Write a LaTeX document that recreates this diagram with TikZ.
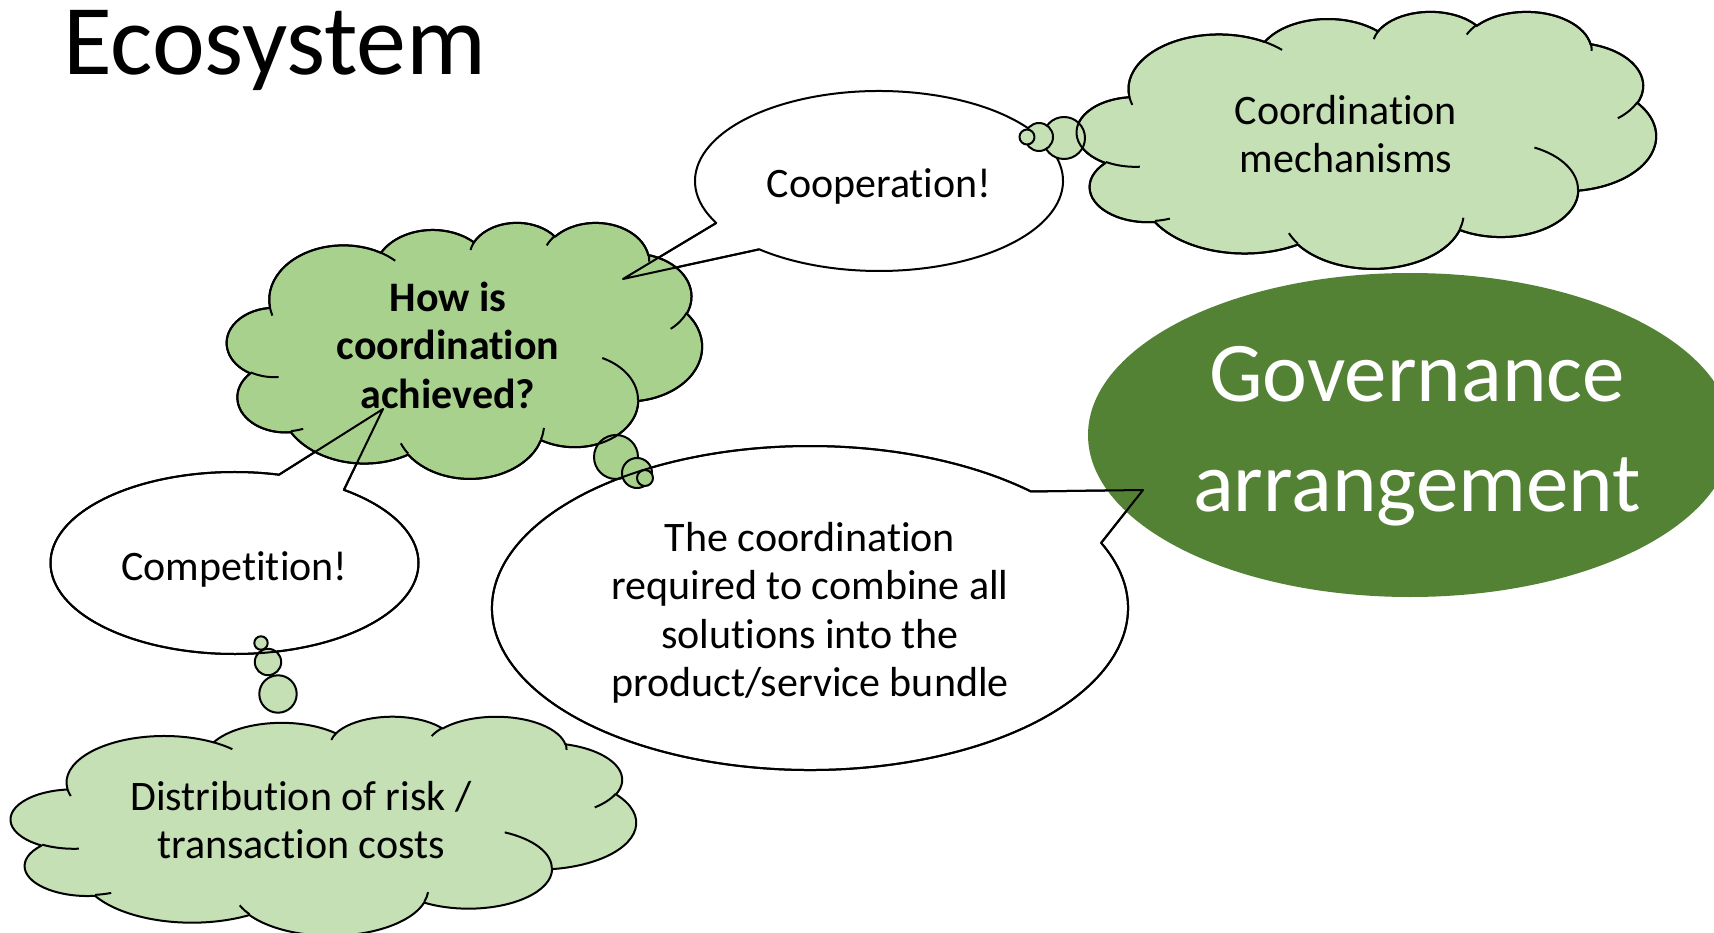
\documentclass[tikz,border=0pt]{standalone}
\usepackage{fontspec}
\setmainfont{Carlito}[Ligatures={NoCommon}]
\usetikzlibrary{calc}
\definecolor{cloudA}{HTML}{A9D18E}
\definecolor{cloudB}{HTML}{C5E0B4}
\definecolor{govgreen}{HTML}{548235}
% arc of the PowerPoint cloud preset: #1 wR, #2 hR, #3 visual start angle, #4 sweep
\newcommand\carc[4]{\pgfextra{%
  \pgfmathparse{atan2((#1)*sin(#3),(#2)*cos(#3))}\xdef\cTa{\pgfmathresult}%
  \pgfmathparse{atan2((#1)*sin((#3)+(#4)),(#2)*cos((#3)+(#4)))}\xdef\cTb{\pgfmathresult}%
  \pgfmathparse{mod((\cTb)-(\cTa)+720,360)}\xdef\cTd{\pgfmathresult}}%
  arc[start angle=\cTa, delta angle=\cTd, x radius=#1, y radius=#2]}
\newcommand\cloudouter{(39.00,143.70)
  \carc{67.53}{91.90}{-190.4875}{123.7805}
  \carc{53.33}{72.67}{-144.1024}{89.9452}
  \carc{43.65}{59.45}{-145.8079}{99.7230}
  \carc{48.57}{65.95}{-130.9861}{117.2417}
  \carc{53.33}{72.73}{-78.7089}{109.0269}
  \carc{67.75}{92.20}{-46.2673}{130.2690}
  \carc{57.85}{78.67}{0.6250}{114.0333}
  \carc{67.52}{92.15}{22.4516}{115.1726}
  \carc{77.20}{105.43}{66.2426}{75.7110}
  \carc{43.60}{59.18}{-274.9421}{146.7356}
  \carc{43.45}{59.45}{-246.8285}{152.5189}
  -- cycle}
\newcommand\cloudinner{(46.93,261.77) \carc{43.45}{59.45}{86.7420}{26.4295}
  (69.28,348.99) \carc{43.60}{59.18}{73.6105}{11.4475}
  (164.78,390.90) \carc{67.52}{92.15}{137.6242}{14.0811}
  (288.27,347.51) \carc{67.52}{92.15}{6.4533}{15.9984}
  (341.29,229.54) \carc{57.85}{78.67}{-70.2924}{70.9174}
  (417.98,153.54) \carc{53.33}{72.73}{30.3180}{27.7515}
  (383.24,54.26) \carc{48.57}{65.95}{-13.7443}{14.8589}
  (290.78,39.52) \carc{48.57}{65.95}{-149.1815}{18.1954}
  (221.41,47.20) \carc{43.65}{59.45}{-163.4943}{17.6864}
  (140.00,51.92) \carc{67.53}{91.90}{-66.7070}{12.3194}
  (41.27,157.89) \carc{67.53}{91.90}{157.6544}{11.8582}}
% #1 fill, #2 left, #3 top, #4 width, #5 height
\newcommand\drawcloud[5]{\begin{scope}[shift={(#2,#3)},xscale=#4/432,yscale=#5/432]
  \filldraw[fill=#1,outl] \cloudouter;
  \draw[outl] \cloudinner;
\end{scope}}
\newcommand\linecloud[4]{\begin{scope}[shift={(#1,#2)},xscale=#3/432,yscale=#4/432]
  \draw[outl] \cloudouter;
\end{scope}}
\begin{document}
\begin{tikzpicture}[x=1pt,y=-1pt,line join=round,
  outl/.style={draw=black,line width=2pt},
  txt/.style={font=\fontsize{42}{48.5}\selectfont,align=center,inner sep=0pt}]
\useasboundingbox (0,0) rectangle (1714,933);
\fill[white] (0,0) rectangle (1714,933);
\clip (0,0) rectangle (1714,933);

% callout geometry
\coordinate (compC) at (234.5,563);
\coordinate (compTip) at (383,409);
\coordinate (compB1) at ($(compC)+(-53.5:184 and 91)$);
\coordinate (compB2) at ($(compC)+(-76:184 and 91)$);
\coordinate (coopC) at (879,181);
\coordinate (coopTip) at (623,279);
\coordinate (coopB1) at ($(coopC)+(152.2:184 and 90)$);
\coordinate (coopB2) at ($(coopC)+(130.6:184 and 90)$);
\coordinate (bunC) at (810,608);
\coordinate (bunTip) at (1143,490);
\coordinate (bunB1) at ($(bunC)+(-23.7:318 and 162)$);
\coordinate (bunB2) at ($(bunC)+(-46:318 and 162)$);

% callouts
\filldraw[fill=white,outl] (compB1) arc[start angle=-53.5,delta angle=337.5,x radius=184,y radius=91] -- (compTip) -- cycle;
\filldraw[fill=white,outl] (coopB1) arc[start angle=152.2,delta angle=338.4,x radius=184,y radius=90] -- (coopTip) -- cycle;
\filldraw[fill=white,outl] (bunB1) arc[start angle=-23.7,delta angle=337.7,x radius=318,y radius=162] -- (bunTip) -- cycle;

% governance ellipse
\fill[govgreen] (1410,435) ellipse[x radius=322,y radius=162];

% clouds
\drawcloud{cloudA}{227}{222}{475}{256}
\drawcloud{cloudB}{1077}{11}{579}{257}
\drawcloud{cloudB}{11}{716}{625}{219}

% thought bubbles
\filldraw[fill=cloudB,outl] (1064,138) circle[radius=21];
\filldraw[fill=cloudB,outl] (1039,137) circle[radius=14];
\filldraw[fill=cloudB,outl] (1027,137) circle[radius=7.5];
\filldraw[fill=cloudA,outl] (616,457) circle[radius=22];
\filldraw[fill=cloudA,outl] (637,473) circle[radius=15];
\filldraw[fill=cloudA,outl] (645,478) circle[radius=8];
\filldraw[fill=cloudB,outl] (278,694) circle[radius=18.7];
\filldraw[fill=cloudB,outl] (268,662) circle[radius=13.2];
\filldraw[fill=cloudB,outl] (261,643) circle[radius=6.7];
\linecloud{1077}{11}{579}{257}
\linecloud{227}{222}{475}{256}

% callout outlines on top
\draw[outl] (compB1) arc[start angle=-53.5,delta angle=337.5,x radius=184,y radius=91] -- (compTip) -- cycle;
\draw[outl] (coopB2) -- (coopTip) -- (coopB1);
\draw[outl] (bunB1) arc[start angle=-23.7,delta angle=337.7,x radius=318,y radius=162] -- (bunTip) -- cycle;

% texts
\node[anchor=base west,inner sep=0pt,font=\fontsize{100}{110}\selectfont] (title) at (63,75) {Ecosystem};
\node[txt,font=\fontsize{42}{48.5}\selectfont\bfseries] (howis) at (448,345) {How is\\coordination\\achieved?};
\node[txt,anchor=base] (coop) at (879,198) {Cooperation!};
\node[txt,anchor=base] (comp) at (234.5,580) {Competition!};
\node[txt] (mech) at (1346,134) {Coordination\\mechanisms};
\node[txt] (distr) at (301,820) {Distribution of risk /\\transaction costs};
\node[txt] (bundle) at (810,613) {The coordination\\required to combine all\\solutions into the\\product/service bundle};
\node[txt,font=\fontsize{85}{109.5}\selectfont,text=white] (gov) at (1417,436) {Governance\\arrangement};
\end{tikzpicture}
\end{document}
